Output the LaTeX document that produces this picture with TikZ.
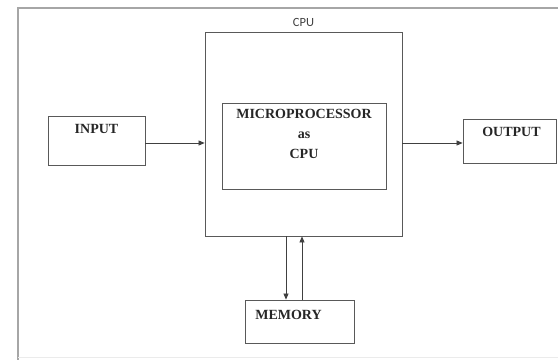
\documentclass[tikz,border=0pt]{standalone}
\usepackage{fontspec}
\setmainfont{Liberation Serif}
\newfontfamily\labelfont{Carlito}
\usetikzlibrary{calc, arrows.meta}

\begin{document}
\begin{tikzpicture}[
            x=1pt, y=-1pt,
            block/.style={draw=black!65, line width=0.8pt, inner sep=0pt},
            blocktext/.style={font=\bfseries\fontsize{14}{20}\selectfont, text=black!85, align=center},
            link/.style={draw=black!75, line width=0.7pt, -{Triangle[length=6pt, width=5pt]}}
        ]

            \useasboundingbox (0,0) rectangle (558,363);

            % outer frame
            \draw[black!35, line width=1.5pt] (18,360) -- (18,8) -- (558,8);
            \draw[black!8, line width=0.8pt] (18,357) -- (558,357);

            % blocks
            \node[block, minimum width=197pt, minimum height=204pt] (cpu) at (303.5,134) {};
            \node[font=\labelfont\fontsize{12.5}{14}\selectfont, text=black!75, above=1pt] (cpulabel) at (cpu.north) {CPU};
            \node[block, minimum width=164pt, minimum height=86pt,
                  label={[blocktext, anchor=north, yshift=-3pt]north:MICROPROCESSOR\\as\\CPU}] (micro) at (304,146) {};
            \node[block, minimum width=97pt, minimum height=49pt,
                  label={[blocktext, anchor=north, yshift=-5pt]north:INPUT}] (input) at (96.5,140.5) {};
            \node[block, minimum width=93pt, minimum height=44pt,
                  label={[blocktext, anchor=north, yshift=-5pt, xshift=2pt]north:OUTPUT}] (output) at (509.5,141) {};
            \node[block, minimum width=109pt, minimum height=43pt,
                  label={[blocktext, anchor=north, yshift=-7pt, xshift=-11pt]north:MEMORY}] (memory) at (299.5,321.5) {};

            % connectors
            \draw[link] ([yshift=-2.5pt]input.east) -- ([yshift=-2.5pt]input.east -| cpu.west);
            \draw[link] ([yshift=-2pt]output.west -| cpu.east) -- ([yshift=-2pt]output.west);
            \draw[link] ([xshift=-13.5pt]memory.north |- cpu.south) -- ([xshift=-13.5pt]memory.north);
            \draw[link] ([xshift=2.5pt]memory.north) -- ([xshift=2.5pt]memory.north |- cpu.south);
        \end{tikzpicture}
\end{document}
